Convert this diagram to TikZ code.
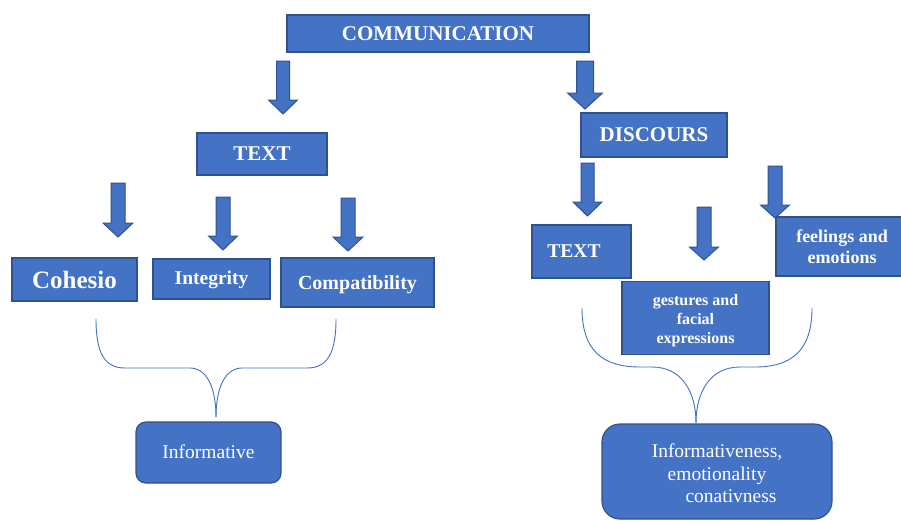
\documentclass[tikz,border=0pt]{standalone}
\usepackage{fontspec}
\setmainfont{Liberation Serif}
\definecolor{boxfill}{HTML}{4472C4}
\definecolor{boxline}{HTML}{2F528F}
\newcommand{\barrow}[6]{%
  \draw[blockarrow] (#1-#5,#2) -- (#1+#5,#2) -- (#1+#5,#3) -- (#1+#6,#3) -- (#1,#4) -- (#1-#6,#3) -- (#1-#5,#3) -- cycle;}
% lower the content by #1 within a centred node
\newcommand{\lowered}[2]{\raisebox{0pt}[\dimexpr\height+#1+#1\relax]{\begin{tabular}{@{}c@{}}#2\end{tabular}}}
\begin{document}
\begin{tikzpicture}[x=1pt,y=-1pt,
  box/.style={draw=boxline,fill=boxfill,line width=1.2pt,text=white,font=\bfseries,align=center,inner sep=0pt},
  rbox/.style={box,font=\normalfont,rounded corners=#1},
  blockarrow/.style={draw=boxline,fill=boxfill,line width=1pt,line join=miter},
  brace/.style={draw=boxfill,line width=0.9pt}]
\useasboundingbox[fill=white] (0,0) rectangle (901,520);

% braces
\coordinate (lb1) at (96,319);
\coordinate (lb2) at (336,319);
\coordinate (lbt) at (216,417);
\draw[brace] (lb1) .. controls (96,352) and (104,368) .. (125,368) -- (190,368) .. controls (206,368) and (216,386) .. (lbt);
\draw[brace] (lb2) .. controls (336,352) and (328,368) .. (307,368) -- (242,368) .. controls (226,368) and (216,386) .. (lbt);
\coordinate (rb1) at (582,308);
\coordinate (rb2) at (812,308);
\coordinate (rbt) at (696,423);
\draw[brace] (rb1) .. controls (582,352) and (604,367) .. (640,367) -- (652,367) .. controls (682,367) and (696,392) .. (rbt);
\draw[brace] (rb2) .. controls (812,352) and (790,367) .. (755,367) -- (740,367) .. controls (710,367) and (696,392) .. (rbt);

% boxes
\node[box,minimum width=302pt,minimum height=37pt,font=\bfseries\fontsize{21}{25}\selectfont] (comm) at (438,33.5) {\lowered{2pt}{COMMUNICATION}};
\node[box,minimum width=130pt,minimum height=42pt,font=\bfseries\fontsize{21}{25}\selectfont] (textL) at (262,154) {\lowered{1pt}{TEXT}};
\node[box,minimum width=146pt,minimum height=44pt,font=\bfseries\fontsize{21}{25}\selectfont] (disc) at (654,135) {DISCOURS};
\node[box,minimum width=125pt,minimum height=43pt,font=\bfseries\fontsize{25}{29}\selectfont] (coh) at (74.5,279.5) {\lowered{3pt}{Cohesio}};
\node[box,minimum width=117pt,minimum height=40pt,font=\bfseries\fontsize{19.5}{23}\selectfont] (integ) at (211.5,279) {\lowered{1pt}{Integrity}};
\node[box,minimum width=153pt,minimum height=49pt,font=\bfseries\fontsize{20}{24}\selectfont] (compat) at (357.5,282.5) {\lowered{2.5pt}{Compatibility}};
\node[box,minimum width=99pt,minimum height=53pt,font=\bfseries\fontsize{19.5}{23}\selectfont] (textR) at (581.5,251.5) {TEXT\hspace*{15pt}};
\node[box,minimum width=132pt,minimum height=59pt,font=\bfseries\fontsize{18}{21}\selectfont] (feel) at (842,246.5) {feelings and\\emotions};
\node[box,minimum width=147pt,minimum height=73pt,font=\bfseries\fontsize{16}{19}\selectfont] (gest) at (695.5,318) {\lowered{3pt}{gestures and\\facial\\expressions}};
\node[rbox=10pt,minimum width=145pt,minimum height=61pt,font=\fontsize{19.5}{23}\selectfont] (infoL) at (208.5,452.5) {\lowered{1.5pt}{Informative}};
\node[rbox=18pt,minimum width=230pt,minimum height=95pt,font=\fontsize{19.5}{22.5}\selectfont] (infoR) at (717,471.5) {\lowered{4pt}{Informativeness,\\emotionality\\\hspace*{28pt}conativness}};

% block arrows
\barrow{283}{61}{100}{114}{6.5}{14.5}
\barrow{585}{61}{93}{109}{8.5}{17.5}
\barrow{118}{183}{223}{237}{7}{15}
\barrow{223}{197}{236}{250}{7}{14.5}
\barrow{348}{198}{237}{251}{7}{15}
\barrow{587.5}{163}{202}{216}{6.5}{14.5}
\barrow{704}{207}{247}{260}{7}{14.5}
\barrow{775}{166}{205}{218}{7}{14.5}
\end{tikzpicture}
\end{document}
